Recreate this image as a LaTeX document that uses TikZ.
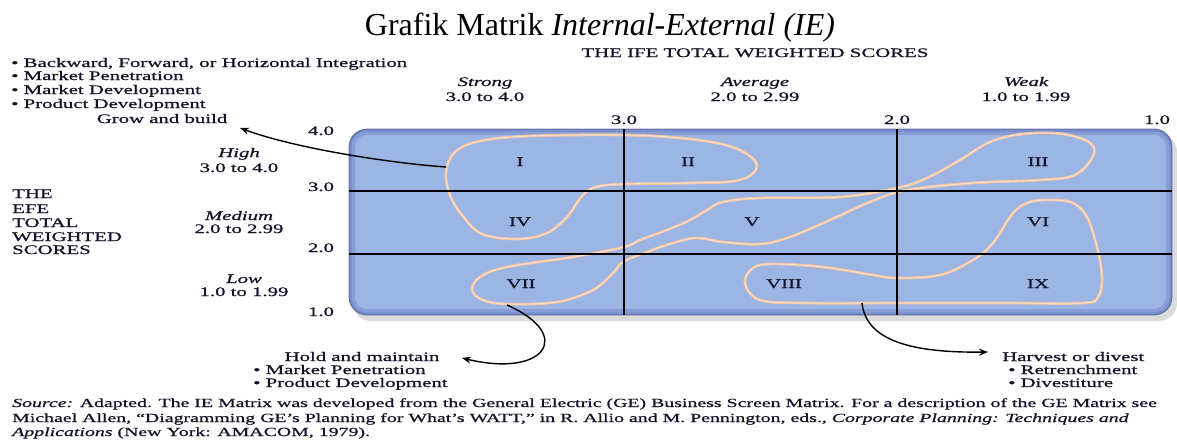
\documentclass[tikz,border=0pt]{standalone}
\usepackage{fontspec}
\setmainfont{Liberation Serif}
\newfontfamily\ff[FakeStretch=1.6,FakeBold=0.8]{Liberation Serif}
\usetikzlibrary{arrows.meta}
\definecolor{boxblue}{RGB}{155,181,228}
\definecolor{boxedge}{RGB}{110,125,155}
\definecolor{peach}{RGB}{244,196,164}
\definecolor{peachcore}{RGB}{252,226,206}
\definecolor{txt}{RGB}{18,18,40}
\begin{document}
\begin{tikzpicture}[x=1pt,y=-1pt,
  lbl/.style={font=\ff\fontsize{13}{14}\selectfont, text=txt, inner sep=0pt, anchor=base},
  lblw/.style={lbl, anchor=base west},
  foot/.style={font=\ff\fontsize{12.4}{14}\selectfont, text=txt, inner sep=0pt, anchor=base west},
  loopline/.style={draw=peach, line width=2.8pt},
  loopcore/.style={draw=peachcore, line width=0.9pt},
  grid/.style={draw=black, line width=1.9pt},
  arr/.style={draw=black, line width=1.4pt, -{Stealth[length=9pt,width=7pt]}}]
\useasboundingbox (0,0) rectangle (1177,439);

% title
\node[font=\fontsize{32}{36}\selectfont, inner sep=0pt, anchor=base] (title) at (600,35) {Grafik Matrik \textit{Internal-External (IE)}};

% horizontal axis header
\node[lbl] (ifehead) at (755,57) {THE IFE TOTAL WEIGHTED SCORES};
\node[lbl] (strong) at (485,86) {\itshape Strong};
\node[lbl] (strongr) at (485,101) {3.0 to 4.0};
\node[lbl] (avg) at (755,86) {\itshape Average};
\node[lbl] (avgr) at (755,101) {2.0 to 2.99};
\node[lbl] (weak) at (1026,86) {\itshape Weak};
\node[lbl] (weakr) at (1026,101) {1.0 to 1.99};
\node[lbl] (x3) at (624,124) {3.0};
\node[lbl] (x2) at (897,124) {2.0};
\node[lbl] (x1) at (1157,124) {1.0};

% vertical axis header
\node[lblw] (efe1) at (12,198) {THE};
\node[lblw] (efe2) at (12,213) {EFE};
\node[lblw] (efe3) at (12,227) {TOTAL};
\node[lblw] (efe4) at (12,241) {WEIGHTED};
\node[lblw] (efe5) at (12,254) {SCORES};
\node[lbl] (high) at (239,157) {\itshape High};
\node[lbl] (highr) at (239,172) {3.0 to 4.0};
\node[lbl] (med) at (239,220) {\itshape Medium};
\node[lbl] (medr) at (239,233) {2.0 to 2.99};
\node[lbl] (low) at (244,283) {\itshape Low};
\node[lbl] (lowr) at (244,296) {1.0 to 1.99};
\node[lbl] (y4) at (321,135) {4.0};
\node[lbl] (y3) at (321,191) {3.0};
\node[lbl] (y2) at (321,252) {2.0};
\node[lbl] (y1) at (321,316) {1.0};

% top-left strategies
\node[lblw] (g1) at (11,67) {\textbullet\ Backward, Forward, or Horizontal Integration};
\node[lblw] (g2) at (11,80) {\textbullet\ Market Penetration};
\node[lblw] (g3) at (11,94) {\textbullet\ Market Development};
\node[lblw] (g4) at (11,108) {\textbullet\ Product Development};
\node[lbl] (grow) at (162,123) {Grow and build};

% matrix box
\fill[black!14, rounded corners=18pt] (353,134) rectangle (1177,321);
\node[draw=boxedge, fill=boxblue, line width=0.8pt, rounded corners=18pt,
      minimum width=823pt, minimum height=186pt, inner sep=0pt] (box) at (760.5,222) {};
\begin{scope}
  \clip[rounded corners=18pt] (349,129) rectangle (1172,315);
  \draw[line width=12pt, draw=blue!50!black, opacity=0.12, rounded corners=18pt] (349,129) rectangle (1172,315);
  \draw[line width=5pt, draw=blue!50!black, opacity=0.12, rounded corners=18pt] (349,129) rectangle (1172,315);
\end{scope}

% loops
\def\loopA{(446,172) (455,152) (480,141) (530,136) (624,135) (690,139) (735,148) (757,165) (740,180) (690,183) (624,184) (596,187) (582,196) (567,217) (547,233) (518,239) (482,234) (462,215) (450,195)}
\def\loopB{(1063,134) (1090,143) (1093,156) (1075,175) (1040,180) (973,183) (907,190) (870,202) (830,220) (790,237) (760,244) (723,242) (697,238) (673,243) (647,252) (623,262) (613,273) (593,290) (557,302) (507,304) (483,300) (472,290) (480,277) (507,267) (573,257) (624,247) (640,240) (667,230) (690,220) (707,210) (723,202) (760,198) (840,197) (897,188) (927,178) (960,160) (990,142) (1023,134)}
\def\loopC{(1053,200) (1073,203) (1087,217) (1097,247) (1102,277) (1098,297) (1083,303) (1007,303) (897,303) (807,303) (760,300) (745,283) (753,268) (773,264) (823,267) (873,275) (897,278) (940,275) (973,260) (993,243) (1013,213) (1030,202)}
\foreach \L in {\loopA,\loopB,\loopC}{
  \draw[loopline] plot[smooth cycle, tension=0.6] coordinates {\L};
  \draw[loopcore] plot[smooth cycle, tension=0.6] coordinates {\L};
}

% grid
\draw[grid] (349,191) -- (1172,191);
\draw[grid] (349,254) -- (1172,254);
\draw[grid] (624,129) -- (624,315);
\draw[grid] (897,129) -- (897,315);

% cell labels
\node[lbl] (c1) at (520,166) {I};
\node[lbl] (c2) at (688,166) {II};
\node[lbl] (c3) at (1038,166) {III};
\node[lbl] (c4) at (520,226) {IV};
\node[lbl] (c5) at (752,226) {V};
\node[lbl] (c6) at (1038,226) {VI};
\node[lbl] (c7) at (521,288) {VII};
\node[lbl] (c8) at (784,288) {VIII};
\node[lbl] (c9) at (1038,288) {IX};

% bottom strategies
\node[lbl] (hold) at (362,361) {Hold and maintain};
\node[lblw] (h1) at (253,374) {\textbullet\ Market Penetration};
\node[lblw] (h2) at (253,387) {\textbullet\ Product Development};
\node[lblw] (harv) at (1002,361) {Harvest or divest};
\node[lblw] (v1) at (1008,374) {\textbullet\ Retrenchment};
\node[lblw] (v2) at (1008,387) {\textbullet\ Divestiture};

% connectors
\coordinate (sA) at (446,167);
\coordinate (tA) at (240,128);
\coordinate (sB) at (507,305);
\coordinate (tB) at (462,358);
\coordinate (sC) at (862,303);
\coordinate (tC) at (988,352);
\draw[arr] (sA) .. controls (400,164) and (300,150) .. (tA);
\draw[arr] (sB) .. controls (575,335) and (545,378) .. (tB);
\draw[arr] (sC) .. controls (866,340) and (910,353) .. (tC);

% source note
\node[foot] (n1) at (12,407) {\textit{Source:} Adapted. The IE Matrix was developed from the General Electric (GE) Business Screen Matrix. For a description of the GE Matrix see};
\node[foot] (n2) at (12,422) {Michael Allen, “Diagramming GE’s Planning for What’s WATT,” in R. Allio and M. Pennington, eds., \textit{Corporate Planning: Techniques and}};
\node[foot] (n3) at (12,436) {\textit{Applications} (New York: AMACOM, 1979).};
\end{tikzpicture}
\end{document}
